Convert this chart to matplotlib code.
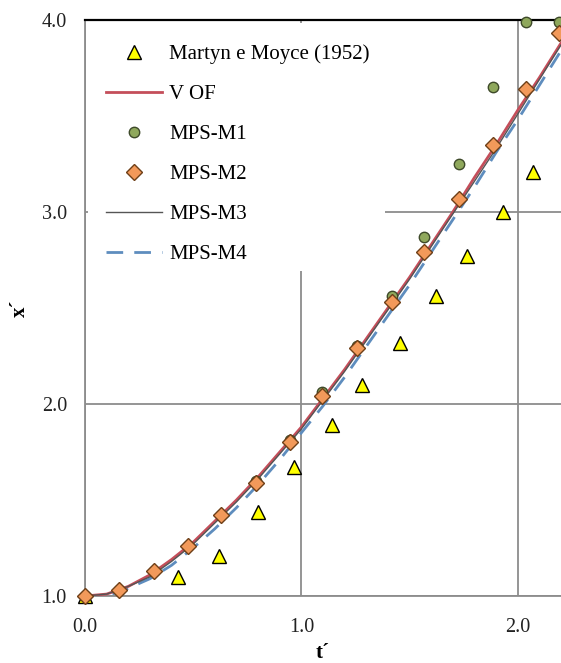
import matplotlib
matplotlib.use("Agg")
import matplotlib.pyplot as plt
from matplotlib.patches import Rectangle

## experimental front position (Martyn & Moyce)
t_exp = [0.0, 0.43, 0.62, 0.80, 0.965, 1.14, 1.28, 1.455, 1.62, 1.765, 1.93, 2.07]
x_exp = [1.0, 1.10, 1.21, 1.44, 1.67, 1.89, 2.10, 2.32, 2.56, 2.77, 3.00, 3.21]

## MPS runs sampled at the same output times
t_mps = [0.0, 0.157, 0.319, 0.476, 0.628, 0.790, 0.947, 1.095, 1.256, 1.418,
         1.566, 1.727, 1.885, 2.037, 2.190]
x_m1 = [1.0, 1.03, 1.13, 1.26, 1.42, 1.60, 1.81, 2.06, 2.30, 2.56,
        2.87, 3.25, 3.65, 3.99, 3.99]
x_m2 = [1.0, 1.03, 1.13, 1.26, 1.42, 1.59, 1.80, 2.04, 2.29, 2.53,
        2.79, 3.07, 3.35, 3.64, 3.93]

## continuous curves
t_line = [0.0, 0.1, 0.2, 0.3, 0.4, 0.5, 0.6, 0.7, 0.8, 0.9, 1.0, 1.1,
          1.2, 1.3, 1.4, 1.5, 1.6, 1.7, 1.8, 1.9, 2.0, 2.1, 2.2]
x_vof = [1.0, 1.01, 1.05, 1.11, 1.19, 1.28, 1.39, 1.50, 1.62, 1.75, 1.88, 2.03,
         2.18, 2.34, 2.50, 2.66, 2.83, 3.00, 3.18, 3.35, 3.53, 3.70, 3.88]
x_m3 = [1.0, 1.01, 1.05, 1.10, 1.18, 1.27, 1.38, 1.49, 1.61, 1.74, 1.87, 2.02,
        2.17, 2.33, 2.49, 2.65, 2.82, 2.99, 3.16, 3.33, 3.51, 3.69, 3.87]
x_m4 = [1.0, 1.0, 1.04, 1.09, 1.16, 1.25, 1.35, 1.46, 1.58, 1.71, 1.85, 1.99,
        2.14, 2.30, 2.46, 2.62, 2.79, 2.96, 3.13, 3.31, 3.48, 3.66, 3.84]

plt.rcParams['font.family'] = ['Liberation Serif', 'DejaVu Serif']

fig = plt.figure(figsize=(5.61, 6.63), dpi=100)
ax = fig.add_axes([85/561, 67/663, 476/561, 576/663])

ax.plot(t_exp, x_exp, linestyle='none', marker='^', ms=9.5, mfc='#FFFF00',
        mec='black', mew=1.0, label='Martyn e Moyce (1952)', zorder=4, clip_on=False)
ax.plot(t_line, x_vof, color='#C44E5A', lw=2.0, label='V OF', zorder=3)
ax.plot(t_mps, x_m1, linestyle='none', marker='o', ms=7.5, mfc='#8FA85C',
        mec='#3E4A2A', mew=1.0, label='MPS-M1', zorder=5, clip_on=False)
ax.plot(t_mps, x_m2, linestyle='none', marker='D', ms=8.5, mfc='#F2995A',
        mec='#6E3F18', mew=1.0, label='MPS-M2', zorder=6, clip_on=False)
ax.plot(t_line, x_m3, color='#555555', lw=1.0, label='MPS-M3', zorder=3)
ax.plot(t_line, x_m4, color='#5E8DBE', lw=2.0, dashes=(6, 4), label='MPS-M4', zorder=2.8)

ax.set_xlim(0, 2.2)
ax.set_ylim(1.0, 4.0)
ax.set_xticks([0.0, 1.0, 2.0])
ax.set_yticks([1.0, 2.0, 3.0, 4.0])
ax.set_xticklabels(['0.0', '1.0', '2.0'])
ax.set_yticklabels(['1.0', '2.0', '3.0', '4.0'])
ax.tick_params(length=0, labelsize=14.5, labelcolor='#222222')
ax.tick_params(axis='x', pad=16)
ax.tick_params(axis='y', pad=13)
ax.grid(True, color='#8C8C8C', lw=1.3)
ax.set_axisbelow(True)

for side in ['left', 'bottom']:
    ax.spines[side].set_color('#8C8C8C')
    ax.spines[side].set_linewidth(1.3)
ax.spines['right'].set_visible(False)
ax.spines['top'].set_color('black')
ax.spines['top'].set_linewidth(1.6)

ax.set_xlabel('t´', fontsize=15, fontweight='bold', labelpad=4)
ax.set_ylabel('x´', fontsize=15, fontweight='bold')
ax.yaxis.set_label_coords(-0.115, 0.5)

# white legend background hiding the grid behind it
ax.add_patch(Rectangle((0.006, 0.564), 0.624, 0.43, transform=ax.transAxes,
                       facecolor='white', edgecolor='none', zorder=2.5))
leg = ax.legend(loc='upper left', bbox_to_anchor=(0.005, 0.99), fontsize=15,
                frameon=False, handlelength=2.7, handletextpad=0.34,
                labelspacing=0.98, borderpad=0.9, borderaxespad=0.0)
leg.set_zorder(2.6)

fig.savefig('out.png', dpi=100)
